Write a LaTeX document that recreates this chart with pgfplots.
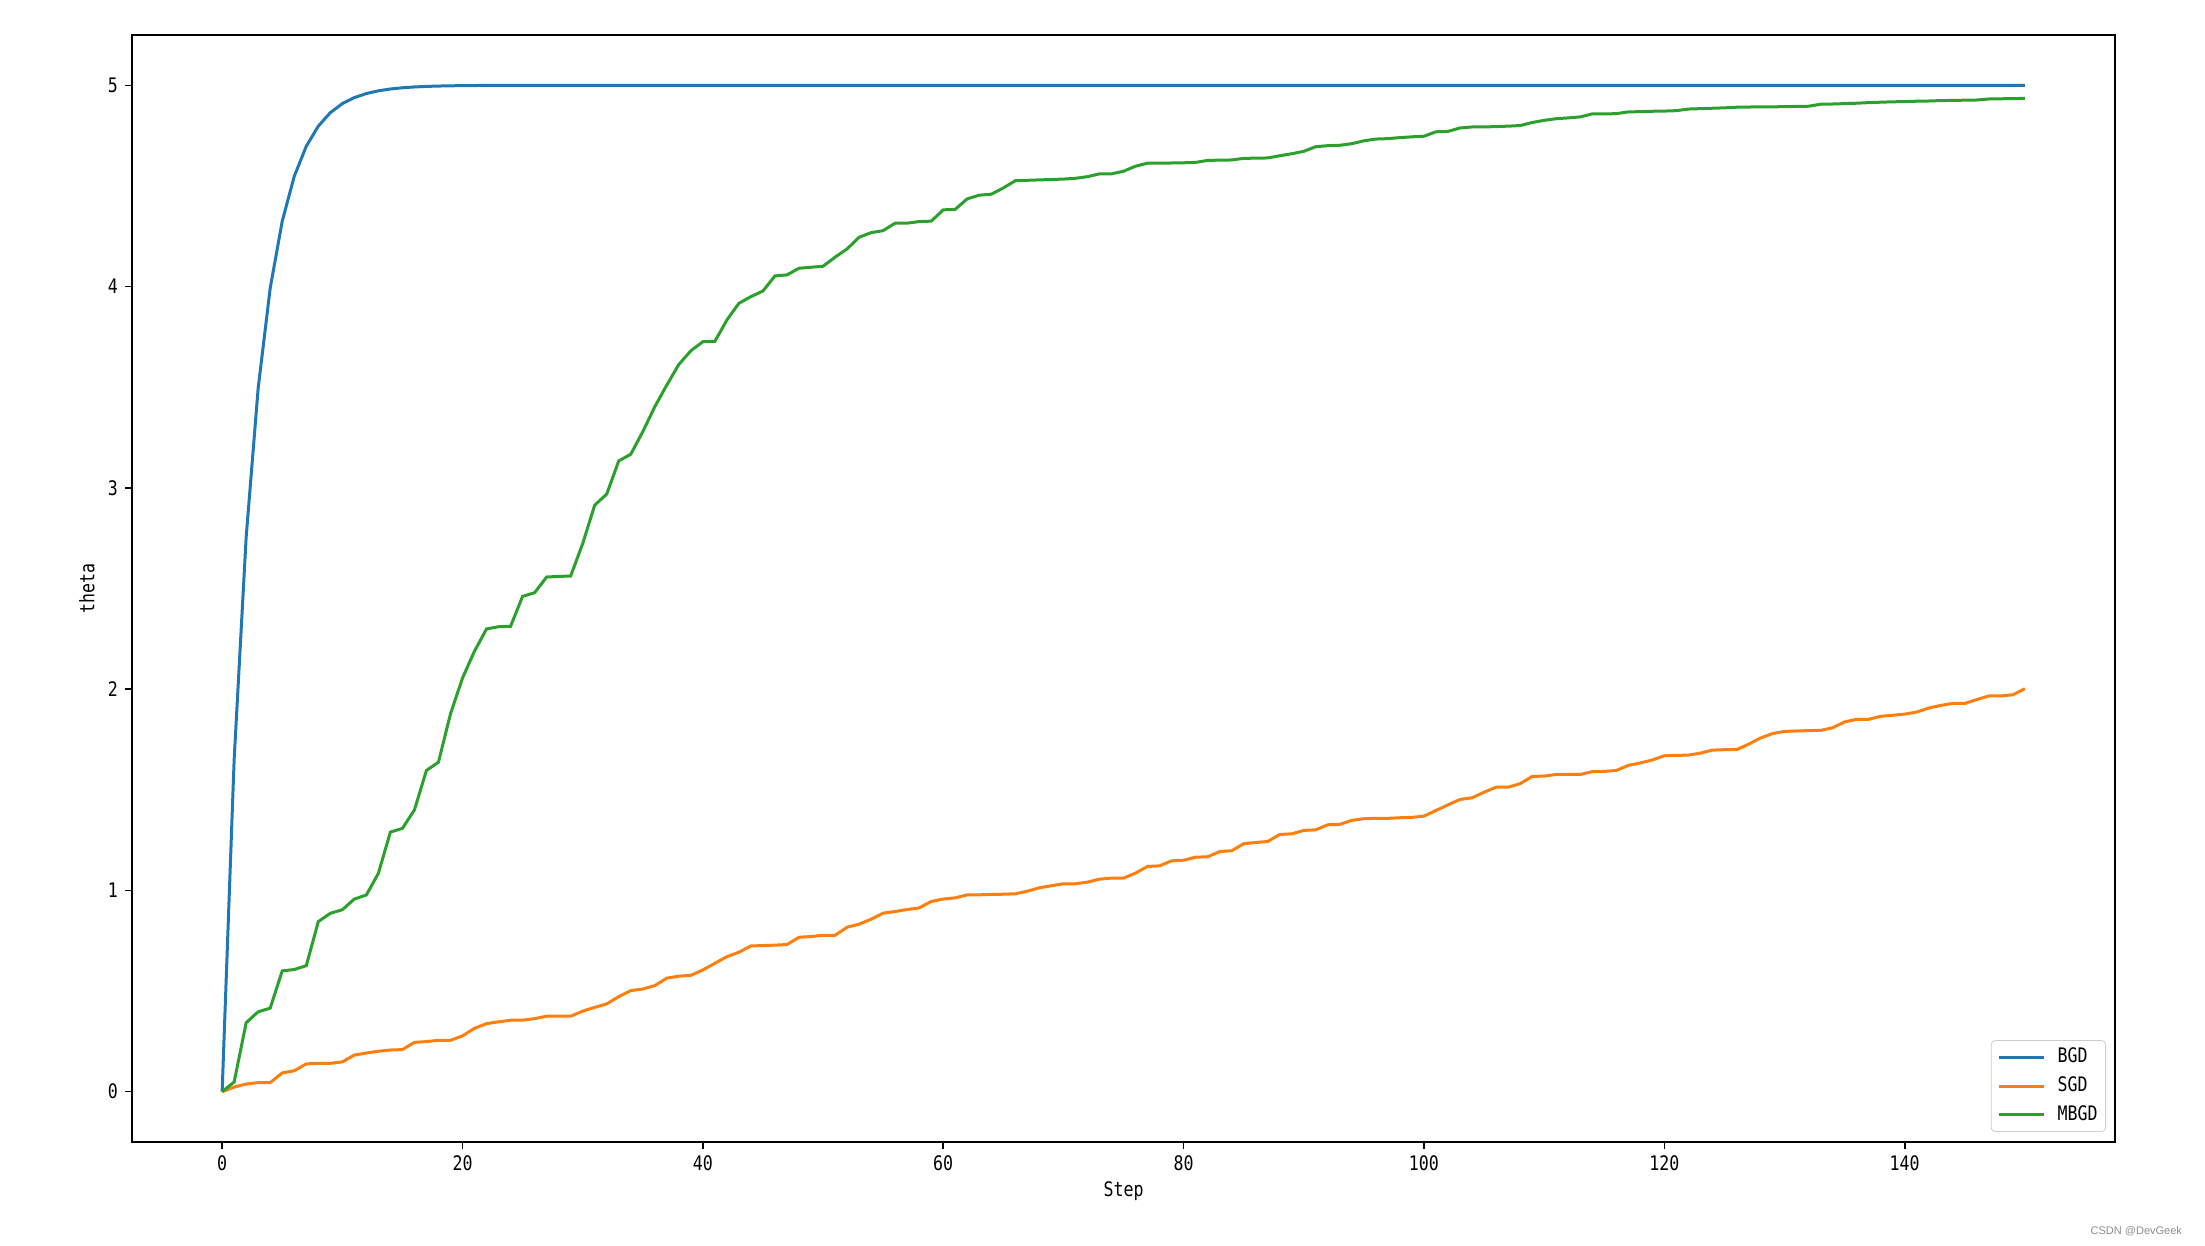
\documentclass[border=0pt]{standalone}
\usepackage{fontspec}
\setmainfont{DejaVu Sans Mono}[FakeStretch=0.83]
\newfontfamily\wmfont{Liberation Sans}
\usepackage{pgfplots}
\usepackage{pgfplotstable}
\pgfplotsset{compat=1.18}
\definecolor{tabblue}{HTML}{1F77B4}
\definecolor{taborange}{HTML}{FF7F0E}
\definecolor{tabgreen}{HTML}{2CA02C}
\pgfplotstableread{
k sgd mbgd
0 0 0
1 0.023 0.048
2 0.038 0.343
3 0.045 0.397
4 0.045 0.415
5 0.093 0.600
6 0.104 0.607
7 0.138 0.626
8 0.141 0.845
9 0.141 0.886
10 0.148 0.904
11 0.182 0.957
12 0.192 0.977
13 0.201 1.085
14 0.207 1.290
15 0.209 1.308
16 0.245 1.400
17 0.249 1.596
18 0.255 1.637
19 0.255 1.877
20 0.277 2.055
21 0.315 2.189
22 0.338 2.299
23 0.347 2.310
24 0.355 2.312
25 0.355 2.461
26 0.363 2.479
27 0.375 2.557
28 0.375 2.560
29 0.375 2.562
30 0.400 2.723
31 0.419 2.914
32 0.436 2.969
33 0.472 3.134
34 0.502 3.167
35 0.510 3.279
36 0.527 3.403
37 0.564 3.511
38 0.574 3.613
39 0.578 3.681
40 0.605 3.726
41 0.638 3.728
42 0.671 3.834
43 0.693 3.917
44 0.724 3.950
45 0.726 3.978
46 0.728 4.053
47 0.731 4.058
48 0.767 4.091
49 0.771 4.096
50 0.777 4.101
51 0.777 4.146
52 0.817 4.187
53 0.832 4.245
54 0.857 4.268
55 0.887 4.278
56 0.895 4.315
57 0.905 4.315
58 0.913 4.323
59 0.945 4.325
60 0.957 4.381
61 0.963 4.384
62 0.978 4.436
63 0.978 4.454
64 0.980 4.459
65 0.981 4.490
66 0.983 4.526
67 0.996 4.528
68 1.013 4.530
69 1.023 4.532
70 1.033 4.534
71 1.033 4.538
72 1.041 4.546
73 1.056 4.560
74 1.061 4.560
75 1.061 4.573
76 1.086 4.598
77 1.119 4.613
78 1.122 4.613
79 1.147 4.614
80 1.150 4.615
81 1.165 4.617
82 1.167 4.627
83 1.193 4.628
84 1.197 4.629
85 1.232 4.637
86 1.238 4.638
87 1.243 4.639
88 1.278 4.650
89 1.281 4.660
90 1.298 4.672
91 1.301 4.695
92 1.326 4.700
93 1.328 4.702
94 1.348 4.710
95 1.356 4.724
96 1.358 4.733
97 1.358 4.735
98 1.361 4.740
99 1.363 4.744
100 1.369 4.747
101 1.397 4.769
102 1.425 4.771
103 1.452 4.788
104 1.460 4.793
105 1.488 4.793
106 1.513 4.795
107 1.513 4.797
108 1.530 4.800
109 1.566 4.815
110 1.568 4.826
111 1.576 4.834
112 1.576 4.838
113 1.576 4.843
114 1.590 4.858
115 1.591 4.858
116 1.596 4.859
117 1.621 4.868
118 1.633 4.869
119 1.648 4.871
120 1.669 4.872
121 1.671 4.874
122 1.672 4.882
123 1.682 4.884
124 1.697 4.886
125 1.699 4.888
126 1.699 4.891
127 1.726 4.892
128 1.757 4.893
129 1.779 4.893
130 1.790 4.894
131 1.792 4.895
132 1.794 4.896
133 1.795 4.906
134 1.808 4.907
135 1.837 4.909
136 1.850 4.911
137 1.850 4.914
138 1.865 4.916
139 1.870 4.918
140 1.876 4.919
141 1.886 4.921
142 1.906 4.922
143 1.919 4.924
144 1.929 4.925
145 1.929 4.926
146 1.948 4.927
147 1.966 4.932
148 1.966 4.933
149 1.972 4.934
150 2.002 4.935
}\datatable
\begin{document}
\begin{tikzpicture}
\begin{axis}[
  name=ax,
  scale only axis,
  width=991.5pt, height=553.5pt,
  xmin=-7.5, xmax=157.5, ymin=-0.25, ymax=5.25,
  xtick={0,20,...,140}, ytick={0,1,2,3,4,5},
  tick align=outside, tick pos=left,
  major tick length=3.5pt,
  every tick/.style={black, line width=0.8pt},
  axis line style={line width=0.8pt, black},
  /pgf/number format/assume math mode=true,
  ticklabel style={font=\fontsize{10}{12}\selectfont},
  label style={font=\fontsize{10}{12}\selectfont},
  xlabel={Step}, ylabel={theta},
  xlabel style={at={(axis description cs:0.5,-0.04426)}, anchor=center},
  ylabel style={at={(axis description cs:-0.0227,0.5)}, anchor=center},
  legend style={at={(axis description cs:1,0)}, anchor=south east,
    xshift=-4.5pt, yshift=5pt, draw=black!20, rounded corners=2pt,
    fill=white, font=\fontsize{10}{12}\selectfont, row sep=2.8pt,
    inner xsep=3pt, inner ysep=2.7pt,
    nodes={inner sep=1pt, text height=7.5pt, text depth=2pt}},
  legend cell align=left,
  legend image code/.code={\draw[#1, line width=1.5pt] (0pt,0pt) -- (22.5pt,0pt);
    \path[draw=none] (0pt,0pt) -- (28.5pt,0pt);},
]
\addplot[tabblue, line width=1.5pt] coordinates {
(0,0) (1,1.65) (2,2.7555) (3,3.4962) (4,3.9924) (5,4.3249) (6,4.5477) (7,4.6970)
(8,4.7970) (9,4.8640) (10,4.9089) (11,4.9389) (12,4.9591) (13,4.9726) (14,4.9816)
(15,4.9877) (16,4.9918) (17,4.9945) (18,4.9963) (19,4.9975) (20,4.9983) (21,4.9989)
(22,4.9993) (23,4.9995) (24,4.9997) (25,4.9998) (150,5)};
\addlegendentry{BGD}
\addplot[taborange, line width=1.5pt] table[x=k, y=sgd] {\datatable};
\addlegendentry{SGD}
\addplot[tabgreen, line width=1.5pt] table[x=k, y=mbgd] {\datatable};
\addlegendentry{MBGD}
\end{axis}
\node[anchor=east, font=\wmfont\fontsize{5.5}{6}\selectfont, text=black!45] at ([xshift=37pt,yshift=-44.5pt]ax.south east) {CSDN @DevGeek};
\path ([xshift=-66pt,yshift=-52pt]ax.south west) rectangle ([xshift=45pt,yshift=17.5pt]ax.north east);
\end{tikzpicture}
\end{document}
